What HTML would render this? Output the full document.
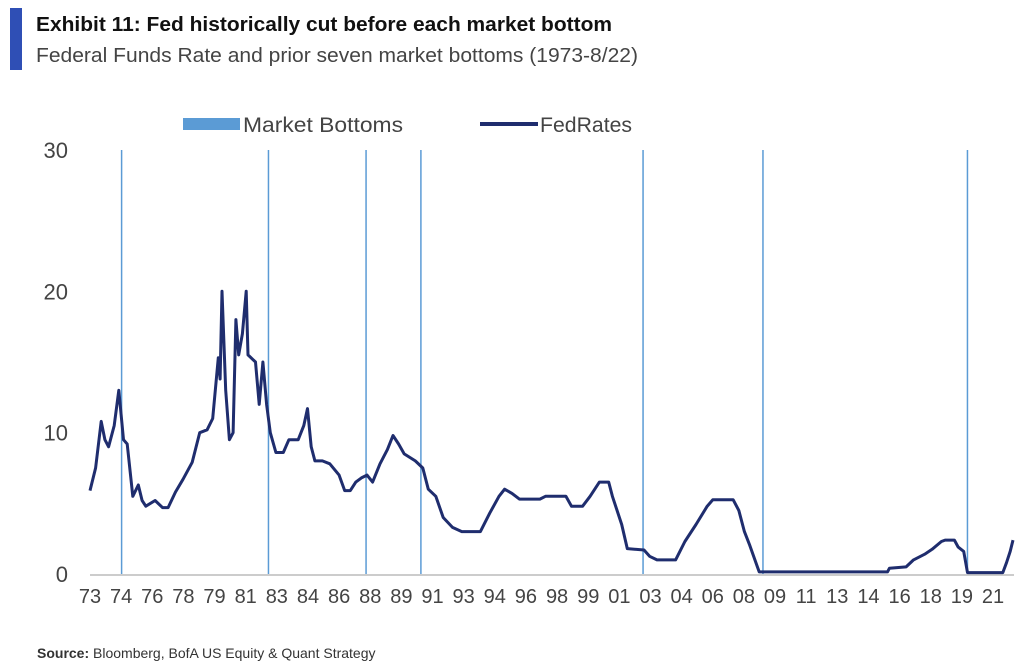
<!DOCTYPE html>
<html><head><meta charset="utf-8"><style>
html,body{margin:0;padding:0;background:#fff;}
svg{display:block;font-family:"Liberation Sans Narrow","Liberation Sans",sans-serif;}
</style></head><body>
<svg id="chart" width="1024" height="666" viewBox="0 0 1024 666">
<rect x="10" y="8" width="12" height="62" fill="#2f4fb5"/>
<text x="36" y="31" font-size="20" font-weight="bold" fill="#111" textLength="576" lengthAdjust="spacingAndGlyphs">Exhibit 11: Fed historically cut before each market bottom</text>
<text x="36" y="62" font-size="20" fill="#444" textLength="602" lengthAdjust="spacingAndGlyphs">Federal Funds Rate and prior seven market bottoms (1973-8/22)</text>
<g>
<rect x="183" y="118" width="57" height="12" fill="#5b9bd5"/>
<text x="243" y="132" font-size="21" fill="#444" textLength="160" lengthAdjust="spacingAndGlyphs">Market Bottoms</text>
<line x1="480" y1="124" x2="538" y2="124" stroke="#1f2d6e" stroke-width="4"/>
<text x="540" y="132" font-size="21" fill="#444" textLength="92" lengthAdjust="spacingAndGlyphs">FedRates</text>
</g>
<g id="bottoms"></g>
<g id="axes"></g>
<path id="fedline" fill="none" stroke="#1f2d6e" stroke-width="3" stroke-linejoin="round"/>
<text x="37" y="658" font-size="14" fill="#333"><tspan font-weight="bold">Source:</tspan> Bloomberg, BofA US Equity &amp; Quant Strategy</text>
</svg>
<script>
const yTicks = [0, 10, 20, 30];
const xLabels = ["73","74","76","78","79","81","83","84","86","88","89","91","93","94","96","98","99","01","03","04","06","08","09","11","13","14","16","18","19","21"];
const bottomYears = [1974.7, 1982.6, 1987.85, 1990.8, 2002.75, 2009.2, 2020.2];
const rateYears = [1973.0,1973.3,1973.6,1973.8,1974.0,1974.3,1974.55,1974.8,1975.0,1975.3,1975.6,1975.8,1976.0,1976.5,1976.9,1977.2,1977.6,1978.0,1978.5,1978.9,1979.3,1979.6,1979.9,1980.0,1980.1,1980.3,1980.5,1980.7,1980.85,1981.0,1981.2,1981.4,1981.5,1981.9,1982.1,1982.3,1982.5,1982.7,1983.0,1983.4,1983.7,1984.2,1984.5,1984.7,1984.9,1985.1,1985.5,1985.9,1986.4,1986.7,1987.0,1987.3,1987.6,1987.9,1988.2,1988.6,1989.0,1989.3,1989.6,1989.9,1990.5,1990.9,1991.2,1991.6,1992.0,1992.5,1993.0,1994.0,1994.5,1995.0,1995.3,1995.7,1996.1,1997.2,1997.5,1998.6,1998.9,1999.5,1999.9,2000.4,2000.9,2001.1,2001.6,2001.9,2002.8,2003.1,2003.5,2004.5,2005.0,2005.6,2006.2,2006.5,2007.6,2007.9,2008.2,2008.5,2008.9,2009.0,2015.9,2016.0,2016.9,2017.3,2017.9,2018.3,2018.8,2019.0,2019.5,2019.7,2020.0,2020.2,2022.1,2022.3,2022.5,2022.65];
const rateValues = [5.9,7.5,10.8,9.5,9.0,10.5,13.0,9.5,9.2,5.5,6.3,5.2,4.8,5.2,4.7,4.7,5.8,6.7,7.9,10.0,10.2,11.0,15.3,13.8,20.0,13.0,9.5,10.0,18.0,15.5,17.0,20.0,15.5,15.0,12.0,15.0,12.0,10.0,8.6,8.6,9.5,9.5,10.5,11.7,9.0,8.0,8.0,7.8,7.0,5.9,5.9,6.5,6.8,7.0,6.5,7.8,8.8,9.8,9.2,8.5,8.0,7.5,6.0,5.5,4.0,3.3,3.0,3.0,4.3,5.5,6.0,5.7,5.3,5.3,5.5,5.5,4.8,4.8,5.5,6.5,6.5,5.5,3.5,1.8,1.7,1.25,1.0,1.0,2.3,3.5,4.8,5.25,5.25,4.5,3.0,2.0,0.5,0.15,0.15,0.4,0.5,1.0,1.4,1.75,2.3,2.4,2.4,1.9,1.6,0.1,0.1,0.8,1.6,2.4];

const NS="http://www.w3.org/2000/svg";
const X0=90, X1=1013, Y0=574, Y1=150;
function xScale(yr){return X0+(yr-1973)*(X1-X0)/(2022.65-1973);}
function yScale(v){return Y0-(v/30)*(Y0-Y1);}
const axes=document.getElementById('axes');
const bottoms=document.getElementById('bottoms');

yTicks.forEach(t=>{
  const el=document.createElementNS(NS,'text');
  
  
  el.setAttribute('x',68);el.setAttribute('y',yScale(t)+8);
  el.setAttribute('text-anchor','end');el.setAttribute('font-size','22');el.setAttribute('fill','#444');
  el.textContent=t;axes.appendChild(el);
});
const xl=document.createElementNS(NS,'line');


xl.setAttribute('x1',X0);xl.setAttribute('x2',1014);xl.setAttribute('y1',Y0+1);xl.setAttribute('y2',Y0+1);
xl.setAttribute('stroke','#999');xl.setAttribute('stroke-width','1');
axes.appendChild(xl);
xLabels.forEach((l,i)=>{
  const el=document.createElementNS(NS,'text');
  
  
  el.setAttribute('x',90+i*(993-90)/29);el.setAttribute('y',603);
  el.setAttribute('text-anchor','middle');el.setAttribute('font-size','20');el.setAttribute('fill','#444');
  el.textContent=l;axes.appendChild(el);
});
bottomYears.forEach(b=>{
  const el=document.createElementNS(NS,'line');
  
  
  const x=xScale(b);
  el.setAttribute('x1',x);el.setAttribute('x2',x);el.setAttribute('y1',Y1);el.setAttribute('y2',Y0);
  el.setAttribute('stroke','#5b9bd5');el.setAttribute('stroke-width','1.5');
  bottoms.appendChild(el);
});
document.getElementById('fedline').setAttribute('d',rateYears.map((y,i)=>(i?'L':'M')+xScale(y).toFixed(1)+','+yScale(rateValues[i]).toFixed(1)).join(''));
</script>
</body></html>
